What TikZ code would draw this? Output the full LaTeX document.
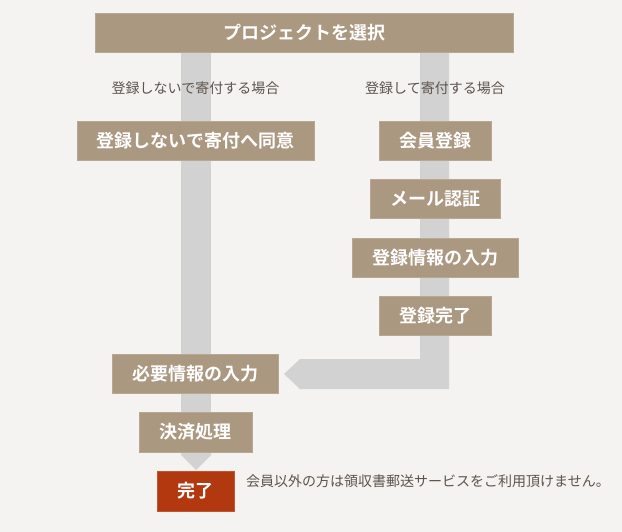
\documentclass[tikz,border=0pt]{standalone}
\usepackage{fontspec}
\setmainfont{Noto Sans CJK JP}
\newfontfamily\cjkbold{Noto Sans CJK JP Bold}
\newfontfamily\cjkreg{Noto Sans CJK JP}
\definecolor{bgc}{HTML}{F4F3F1}
\definecolor{tan}{HTML}{AA9880}
\definecolor{barc}{HTML}{D2D2D2}
\definecolor{redc}{HTML}{B2380F}
\definecolor{labc}{HTML}{5D544C}
\begin{document}
\begin{tikzpicture}[x=1pt,y=-1pt,
  box/.style={fill=tan, draw=tan!85!white, line width=0.6pt, text=white, inner sep=0pt,
    minimum height=39pt, font=\cjkbold\fontsize{18}{20}\selectfont},
  redbox/.style={box, fill=redc, draw=redc!85!white},
  lab/.style={text=labc, inner sep=0pt, font=\cjkreg\fontsize{14}{16}\selectfont}]
\useasboundingbox (0,0) rectangle (622,532);
\fill[bgc] (0,0) rectangle (622,532);
% gray bars
\fill[barc] (181,50) rectangle (211,452);
\fill[barc] (181,451) -- (211,451) -- (211,455) -- (196,470) -- (181,455) -- cycle;
\fill[barc] (420,50) -- (449,50) -- (449,389) -- (300,389) -- (284,374) -- (300,359) -- (420,359) -- cycle;
% boxes
\node[box, minimum width=418pt] (top) at (304,32.5) {プロジェクトを選択};
\node[box, minimum width=237pt] (agree) at (195.5,140.5) {登録しないで寄付へ同意};
\node[box, minimum width=112pt] (kaiin) at (435,140.5) {会員登録};
\node[box, minimum width=130pt] (mail) at (435,198.5) {メール認証};
\node[box, minimum width=166pt] (info) at (435,257.5) {登録情報の入力};
\node[box, minimum width=112pt] (regdone) at (435,315.5) {登録完了};
\node[box, minimum width=166pt] (need) at (195,373.5) {必要情報の入力};
\node[box, minimum width=113pt, minimum height=40pt] (pay) at (195.5,432) {決済処理};
\node[redbox, minimum width=77pt, minimum height=40pt] (fin) at (195.5,491) {完了};
% labels
\node[lab] (l1) at (195.5,88) {登録しないで寄付する場合};
\node[lab] (l2) at (435,88) {登録して寄付する場合};
\node[lab, anchor=west] (note) at (246,481) {会員以外の方は領収書郵送サービスをご利用頂けません。};
\end{tikzpicture}
\end{document}
